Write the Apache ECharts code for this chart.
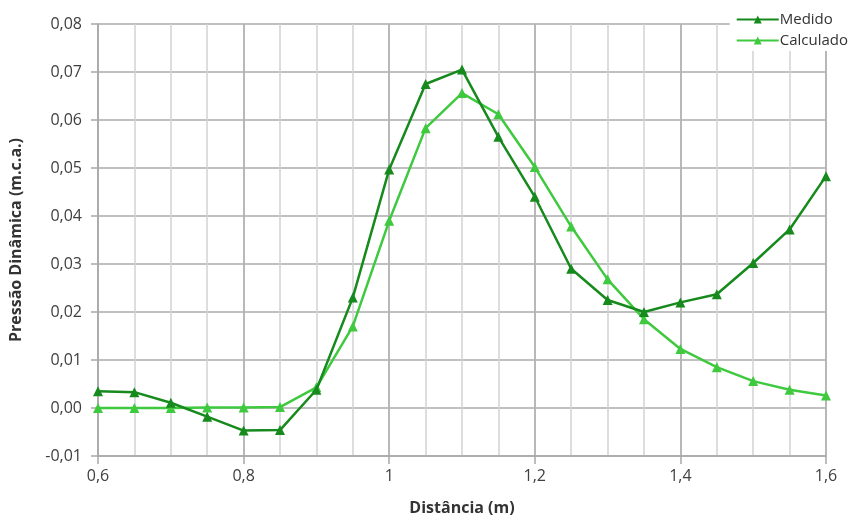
<!DOCTYPE html>
<html><head><meta charset="utf-8">
<script src="https://cdn.jsdelivr.net/npm/echarts@6/dist/echarts.min.js"></script>
<style>html,body{margin:0;padding:0;background:#fff}#c{width:850px;height:518px}</style>
</head><body><div id="c"></div>
<script>
const distancia = [0.6,0.65,0.7,0.75,0.8,0.85,0.9,0.95,1.0,1.05,1.1,1.15,1.2,1.25,1.3,1.35,1.4,1.45,1.5,1.55,1.6];
const medido = [0.0035,0.0033,0.0011,-0.0018,-0.0047,-0.0046,0.0038,0.0230,0.0497,0.0675,0.0705,0.0565,0.0440,0.0290,0.0225,0.0200,0.0220,0.0237,0.0302,0.0372,0.0483];
const calculado = [0.0000,0.0000,0.0000,0.0001,0.0001,0.0002,0.0043,0.0170,0.0390,0.0583,0.0656,0.0612,0.0502,0.0378,0.0268,0.0185,0.0123,0.0085,0.0056,0.0038,0.0026];
const seriesNames = ['Medido','Calculado'];
const colors = ['#168a1c','#3fc93f'];
const font = '"Open Sans", "Liberation Sans", sans-serif';
const chart = echarts.init(document.getElementById('c'));
const fmtX = v => { const r = Math.round(v*100); if (r % 20 !== 0) return ''; return (r/100).toString().replace('.', ','); };
chart.setOption({
  animation:false,
  backgroundColor:'#fff',
  grid:{left:98,right:24,top:24,bottom:62,containLabel:false,outerBoundsMode:'none'},
  legend:{
    right:0, top:9, orient:'vertical', itemGap:6, itemWidth:42, itemHeight:10,
    backgroundColor:'#fff', padding:[3,2,3,6],
    textStyle:{fontFamily:font,fontSize:15,color:'#333',padding:[0,0,0,-4]},
    data:seriesNames
  },
  xAxis:[{
    type:'value', min:0.6, max:1.6, interval:0.05,
    axisLine:{show:false}, axisTick:{show:false},
    axisLabel:{show:false},
    splitLine:{show:true,lineStyle:{color:'#d2d2d2',width:1.5}}
  },{
    type:'value', min:0.6, max:1.6, interval:0.2, position:'bottom',
    axisLine:{show:true,lineStyle:{color:'#a8a8a8',width:1.5}},
    axisTick:{show:true,length:8,lineStyle:{color:'#a8a8a8',width:1.5}},
    axisLabel:{formatter:fmtX,fontFamily:font,fontSize:16,color:'#404040',margin:12},
    splitLine:{show:true,lineStyle:{color:'#ababab',width:1.5}},
    name:'Distância (m)', nameLocation:'middle', nameGap:44,
    nameTextStyle:{fontFamily:font,fontSize:16,fontWeight:'bold',color:'#333'}
  }],
  yAxis:{
    type:'value', min:-0.01, max:0.08, interval:0.01,
    axisLine:{show:true,lineStyle:{color:'#a8a8a8',width:1.5}},
    axisTick:{show:true,length:7,lineStyle:{color:'#a8a8a8',width:1.5}},
    axisLabel:{formatter:v=>v.toFixed(2).replace('.',','),fontFamily:font,fontSize:16,color:'#404040',margin:16},
    splitLine:{show:true,lineStyle:{color:'#ababab',width:1.5}},
    name:'Pressão Dinâmica (m.c.a.)', nameLocation:'middle', nameGap:74,
    nameTextStyle:{fontFamily:font,fontSize:16,fontWeight:'bold',color:'#333'}
  },
  series:[
    {name:seriesNames[0],type:'line',xAxisIndex:0,data:distancia.map((x,i)=>[x,medido[i]]),
     color:colors[0],lineStyle:{width:2.5},symbol:'triangle',symbolSize:10,itemStyle:{color:colors[0]},z:3},
    {name:seriesNames[1],type:'line',xAxisIndex:0,data:distancia.map((x,i)=>[x,calculado[i]]),
     color:colors[1],lineStyle:{width:2.5},symbol:'triangle',symbolSize:10,itemStyle:{color:colors[1]},z:2}
  ]
});
</script></body></html>
